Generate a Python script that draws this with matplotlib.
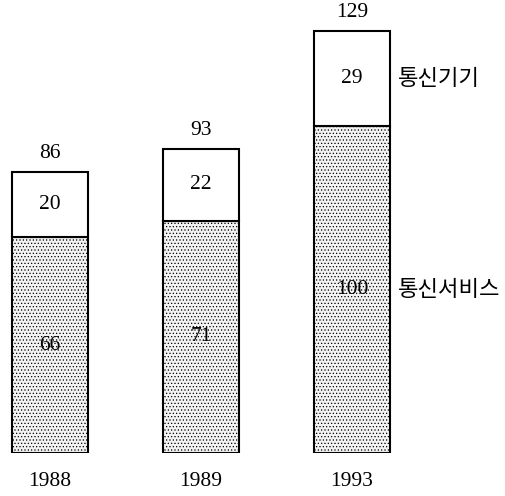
import numpy as np
import matplotlib.pyplot as plt

years = ['1988', '1989', '1993']
services = [66, 71, 100]
devices = [20, 22, 29]
series_names = ['통신서비스', '통신기기']

plt.rcParams['hatch.color'] = '#bdbdbd'
plt.rcParams['hatch.linewidth'] = 0.5

fig = plt.figure(figsize=(5.06, 4.96), dpi=100)
# axes runs from the bar baseline up to the top edge of the figure
ax = fig.add_axes([0, 43 / 496, 1, 453 / 496])
x = np.arange(len(years))
w = 76 / 151
totals = [s + d for s, d in zip(services, devices)]

ax.bar(x, services, w, color='#f3f3f3', edgecolor='black', linewidth=1.5, hatch='.....')
ax.bar(x, devices, w, bottom=services, color='white', edgecolor='black', linewidth=1.5)

num_font = dict(family=['Liberation Serif', 'DejaVu Serif'], fontsize=15.5)
for i in x:
    ax.text(i, services[i] / 2, str(services[i]), ha='center', va='center', **num_font)
    ax.text(i, services[i] + devices[i] / 2, str(devices[i]), ha='center', va='center', **num_font)
    ax.text(i, totals[i] + 5.6, str(totals[i]), ha='center', va='center', **num_font)
    ax.text(i, -8.6, years[i], ha='center', va='center', **num_font)

last = len(years) - 1
kr = dict(family=['Noto Sans CJK KR', 'DejaVu Sans'], fontsize=16)
ax.text(last + w / 2 + 0.05, services[last] / 2, series_names[0], ha='left', va='center', **kr)
ax.text(last + w / 2 + 0.05, services[last] + devices[last] / 2, series_names[1], ha='left', va='center', **kr)

ax.set_xlim(-50 / 151, 456 / 151)
ax.set_ylim(0, 138.5)
ax.axis('off')
fig.savefig('out.png', dpi=100)
